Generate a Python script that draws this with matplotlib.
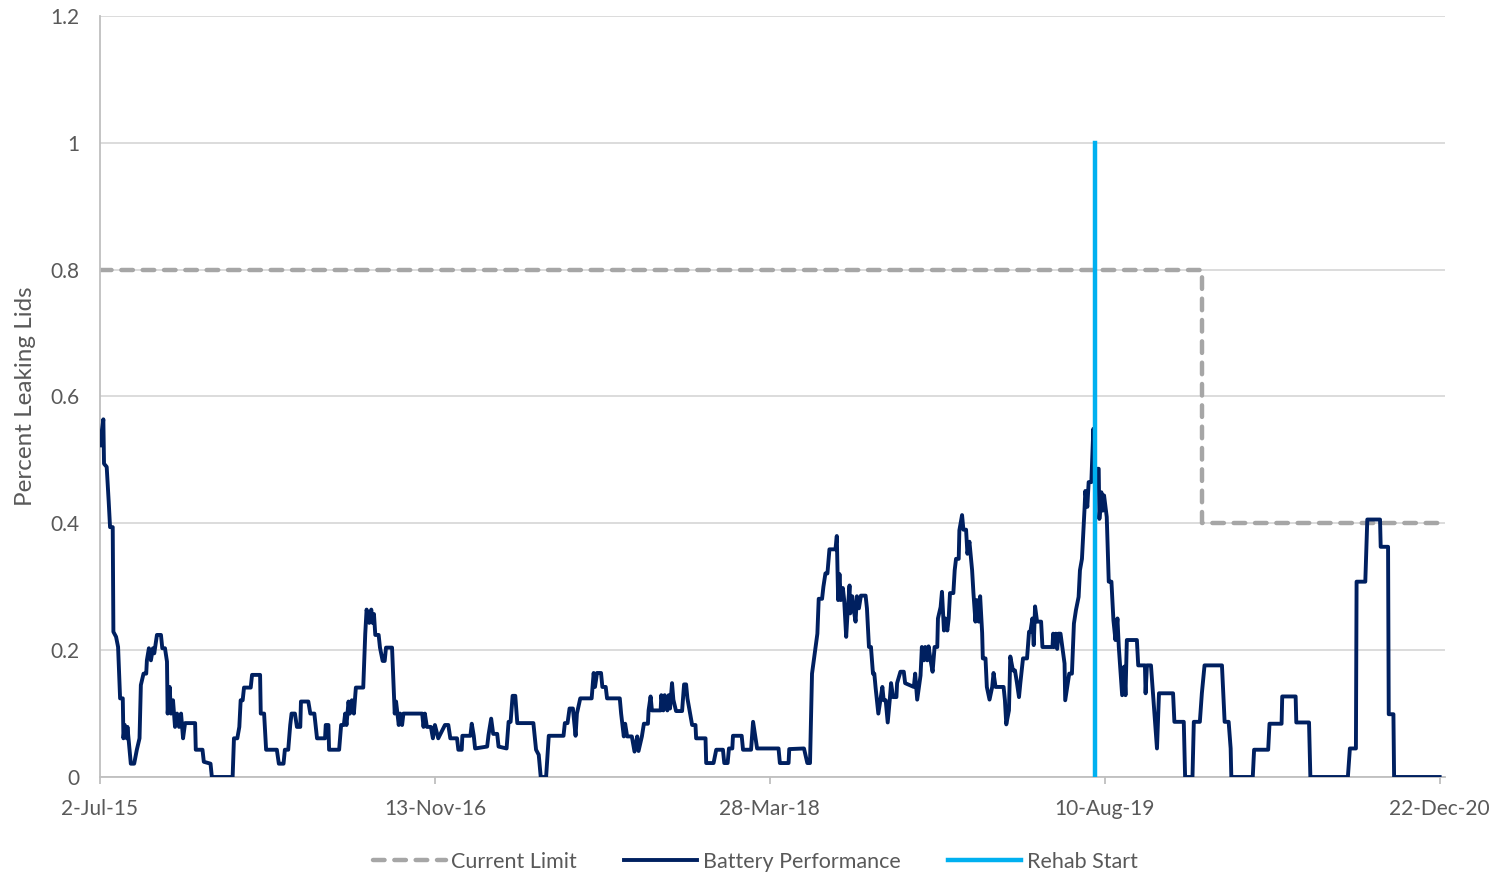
import datetime as dt
import matplotlib
matplotlib.use("Agg")
import matplotlib.pyplot as plt
from matplotlib.lines import Line2D

plt.rcParams['font.family'] = ['Lato', 'DejaVu Sans']

start = dt.date(2015, 7, 2)

# battery performance: days after 2-Jul-15 and fraction leaking
perf_days = [
    0, 5, 6, 10, 13, 15, 19, 20, 24, 27, 30, 34, 35, 37, 40, 41, 46, 51, 55, 59,
    61, 65, 69, 70, 73, 76, 79, 81, 85, 91, 93, 97, 100, 101, 104, 106, 109, 112, 115, 118,
    121, 124, 127, 142, 143, 153, 155, 165, 167, 198, 200, 205, 208, 210, 213, 215, 225, 227, 239, 240,
    245, 248, 264, 267, 274, 276, 281, 284, 286, 291, 294, 299, 300, 311, 314, 320, 324, 336, 337, 341,
    342, 357, 360, 364, 366, 368, 371, 373, 376, 379, 382, 393, 396, 398, 402, 405, 407, 409, 411, 416,
    418, 422, 425, 427, 436, 440, 442, 446, 448, 451, 453, 481, 483, 485, 488, 494, 497, 500, 505, 515,
    520, 523, 533, 535, 540, 541, 553, 555, 558, 560, 578, 580, 584, 587, 593, 595, 607, 610, 613, 616,
    620, 623, 647, 651, 655, 658, 666, 670, 692, 694, 698, 701, 706, 710, 712, 717, 734, 737, 739, 742,
    748, 750, 755, 757, 776, 778, 782, 784, 787, 794, 798, 802, 804, 809, 812, 818, 819, 822, 824, 837,
    838, 841, 843, 847, 849, 851, 854, 856, 860, 869, 872, 875, 877, 881, 884, 889, 890, 904, 905, 916,
    920, 930, 932, 937, 939, 944, 945, 958, 960, 972, 975, 978, 981, 1013, 1015, 1028, 1029, 1051, 1056, 1060,
    1063, 1067, 1071, 1073, 1078, 1080, 1083, 1086, 1089, 1098, 1100, 1102, 1104, 1106, 1109, 1111, 1114, 1116, 1119, 1120,
    1123, 1125, 1128, 1130, 1133, 1136, 1143, 1145, 1148, 1151, 1154, 1156, 1158, 1162, 1165, 1168, 1170, 1173, 1176, 1179,
    1181, 1184, 1189, 1190, 1195, 1200, 1202, 1215, 1217, 1220, 1225, 1227, 1230, 1232, 1235, 1237, 1240, 1243, 1246, 1250,
    1251, 1255, 1257, 1260, 1262, 1265, 1267, 1269, 1274, 1276, 1278, 1282, 1283, 1287, 1289, 1293, 1295, 1298, 1302, 1304,
    1307, 1309, 1312, 1314, 1317, 1318, 1322, 1324, 1328, 1332, 1334, 1337, 1349, 1351, 1353, 1357, 1359, 1363, 1366, 1369,
    1372, 1374, 1378, 1384, 1387, 1389, 1392, 1394, 1396, 1399, 1405, 1407, 1422, 1423, 1425, 1427, 1429, 1431, 1434, 1437,
    1440, 1441, 1444, 1447, 1451, 1454, 1457, 1461, 1463, 1466, 1469, 1470, 1471, 1474, 1476, 1480, 1483, 1485, 1488, 1491,
    1492, 1495, 1497, 1499, 1503, 1506, 1510, 1513, 1516, 1519, 1521, 1526, 1529, 1531, 1533, 1548, 1550, 1560, 1561, 1563,
    1569, 1572, 1575, 1578, 1581, 1602, 1604, 1618, 1620, 1631, 1633, 1642, 1645, 1649, 1675, 1679, 1685, 1688, 1689, 1721,
    1723, 1744, 1746, 1764, 1765, 1785, 1786, 1805, 1807, 1863, 1866, 1875, 1876, 1889, 1892, 1911, 1912, 1923, 1924, 1931,
    1932, 2000,
]
perf_vals = [
    0.523, 0.564, 0.494, 0.489, 0.434, 0.394, 0.394, 0.229, 0.221, 0.205, 0.124, 0.124, 0.061, 0.082, 0.061, 0.079, 0.021, 0.021, 0.043, 0.061,
    0.145, 0.163, 0.163, 0.184, 0.203, 0.184, 0.203, 0.195, 0.224, 0.224, 0.203, 0.203, 0.182, 0.100, 0.142, 0.100, 0.121, 0.079, 0.100, 0.079,
    0.100, 0.061, 0.085, 0.085, 0.043, 0.043, 0.024, 0.021, 0.0, 0.0, 0.061, 0.061, 0.079, 0.121, 0.121, 0.141, 0.141, 0.161, 0.161, 0.100,
    0.100, 0.043, 0.043, 0.021, 0.021, 0.043, 0.043, 0.082, 0.100, 0.100, 0.079, 0.079, 0.119, 0.119, 0.100, 0.100, 0.061, 0.061, 0.082, 0.082,
    0.043, 0.043, 0.082, 0.082, 0.100, 0.082, 0.119, 0.100, 0.121, 0.100, 0.141, 0.141, 0.226, 0.264, 0.243, 0.264, 0.243, 0.257, 0.224, 0.224,
    0.204, 0.183, 0.183, 0.204, 0.204, 0.100, 0.119, 0.082, 0.100, 0.082, 0.100, 0.100, 0.079, 0.100, 0.079, 0.079, 0.061, 0.082, 0.061, 0.082,
    0.082, 0.061, 0.061, 0.043, 0.043, 0.065, 0.065, 0.084, 0.065, 0.045, 0.048, 0.066, 0.092, 0.068, 0.068, 0.048, 0.045, 0.087, 0.087, 0.128,
    0.128, 0.085, 0.085, 0.043, 0.035, 0.0, 0.0, 0.065, 0.065, 0.085, 0.085, 0.108, 0.108, 0.065, 0.100, 0.124, 0.124, 0.164, 0.142, 0.164,
    0.164, 0.142, 0.142, 0.124, 0.124, 0.100, 0.064, 0.084, 0.064, 0.064, 0.040, 0.064, 0.041, 0.064, 0.084, 0.084, 0.105, 0.127, 0.105, 0.105,
    0.129, 0.105, 0.129, 0.105, 0.129, 0.108, 0.148, 0.122, 0.104, 0.104, 0.146, 0.146, 0.124, 0.100, 0.082, 0.082, 0.061, 0.061, 0.022, 0.022,
    0.043, 0.043, 0.022, 0.022, 0.045, 0.045, 0.065, 0.065, 0.043, 0.043, 0.087, 0.066, 0.045, 0.045, 0.022, 0.022, 0.044, 0.045, 0.022, 0.022,
    0.163, 0.195, 0.226, 0.281, 0.281, 0.300, 0.321, 0.321, 0.359, 0.359, 0.380, 0.279, 0.320, 0.279, 0.298, 0.279, 0.221, 0.258, 0.302, 0.258,
    0.285, 0.266, 0.245, 0.285, 0.266, 0.286, 0.286, 0.266, 0.205, 0.205, 0.163, 0.163, 0.140, 0.100, 0.121, 0.142, 0.121, 0.121, 0.086, 0.121,
    0.148, 0.126, 0.126, 0.148, 0.166, 0.166, 0.148, 0.142, 0.163, 0.122, 0.160, 0.205, 0.184, 0.205, 0.184, 0.206, 0.184, 0.166, 0.205, 0.205,
    0.250, 0.268, 0.292, 0.231, 0.250, 0.231, 0.250, 0.290, 0.290, 0.326, 0.344, 0.344, 0.389, 0.413, 0.390, 0.390, 0.352, 0.371, 0.326, 0.290,
    0.245, 0.279, 0.245, 0.285, 0.227, 0.187, 0.187, 0.142, 0.122, 0.142, 0.164, 0.142, 0.142, 0.121, 0.083, 0.105, 0.190, 0.168, 0.168, 0.148,
    0.126, 0.148, 0.187, 0.187, 0.229, 0.229, 0.250, 0.208, 0.269, 0.245, 0.245, 0.205, 0.205, 0.226, 0.205, 0.226, 0.202, 0.226, 0.226, 0.202,
    0.179, 0.121, 0.142, 0.163, 0.163, 0.242, 0.263, 0.284, 0.326, 0.344, 0.405, 0.426, 0.451, 0.426, 0.465, 0.465, 0.549, 0.481, 0.486, 0.486,
    0.407, 0.449, 0.420, 0.444, 0.410, 0.308, 0.308, 0.247, 0.216, 0.250, 0.205, 0.129, 0.174, 0.129, 0.216, 0.216, 0.176, 0.176, 0.132, 0.176,
    0.176, 0.132, 0.087, 0.045, 0.132, 0.132, 0.087, 0.087, 0.0, 0.0, 0.087, 0.087, 0.132, 0.176, 0.176, 0.087, 0.087, 0.045, 0.0, 0.0,
    0.043, 0.043, 0.084, 0.084, 0.127, 0.127, 0.086, 0.086, 0.0, 0.0, 0.045, 0.045, 0.308, 0.308, 0.406, 0.406, 0.363, 0.363, 0.099, 0.099,
    0.0, 0.0,
]

# current limit steps down from 0.8 to 0.4
limit_days = [0, 1645, 1645, 2008]
limit_vals = [0.8, 0.8, 0.4, 0.4]

rehab_day = 1486
rehab_vals = [0, 1]

tick_days = [0, 500, 1000, 1500, 2000]

to_date = lambda n: start + dt.timedelta(days=n)

fig = plt.figure(figsize=(14.93, 8.74), dpi=100, facecolor='white')
ax = fig.add_axes([100/1493, 1-777/874, 1345/1493, 761/874])

ax.plot([to_date(d) for d in limit_days], limit_vals, color='#A6A6A6', lw=3.2,
        dashes=(2.6, 2.2), dash_capstyle='round', solid_joinstyle='miter', zorder=2)
ax.plot([to_date(d) for d in perf_days], perf_vals, color='#002060', lw=2.8, zorder=3)
ax.plot([to_date(rehab_day)]*2, rehab_vals, color='#00B0F0', lw=3.2, zorder=4)

ax.set_xlim(to_date(0), to_date(2008))
ax.set_ylim(0, 1.2)
ax.set_yticks([0, 0.2, 0.4, 0.6, 0.8, 1, 1.2])
ax.set_yticklabels(['0', '0.2', '0.4', '0.6', '0.8', '1', '1.2'])
ax.set_xticks([to_date(d) for d in tick_days])
ax.set_xticklabels([f"{to_date(d).day}-{to_date(d):%b-%y}" for d in tick_days])

ax.grid(axis='y', color='#D9D9D9', lw=1.3)
ax.set_axisbelow(True)
for s in ['top', 'right']:
    ax.spines[s].set_visible(False)
for s in ['left', 'bottom']:
    ax.spines[s].set_color('#BFBFBF')
    ax.spines[s].set_linewidth(1.3)
ax.tick_params(axis='y', length=0, pad=15, labelsize=15, labelcolor='#595959')
ax.tick_params(axis='x', length=5, width=1.3, color='#BFBFBF', pad=11,
               labelsize=15, labelcolor='#595959')
ax.set_ylabel('Percent Leaking Lids', fontsize=17.5, color='#595959', labelpad=10)

handles = [
    Line2D([], [], color='#A6A6A6', lw=3.2, dashes=(2.6, 2.2), dash_capstyle='round'),
    Line2D([], [], color='#002060', lw=2.8),
    Line2D([], [], color='#00B0F0', lw=3.2),
]
fig.legend(handles, ['Current Limit', 'Battery Performance', 'Rehab Start'],
           loc='center', bbox_to_anchor=(755/1493, 1-862/874), ncol=3, frameon=False,
           fontsize=15.5, labelcolor='#595959', handlelength=3.4, handletextpad=0.25,
           columnspacing=2.2)

fig.savefig('out.png', dpi=100, facecolor='white')
